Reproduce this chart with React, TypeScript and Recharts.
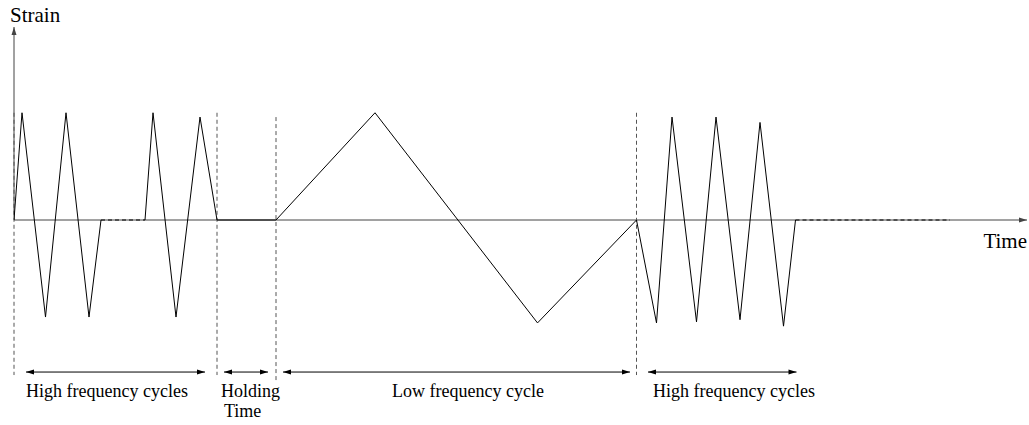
import React from 'react';
import { ComposedChart, Line, XAxis, YAxis, ReferenceLine } from 'recharts';

// ---- data (time in arbitrary units, strain normalised to the peak amplitude) ----
const burst1Time = [0, 8, 31.5, 52, 75, 87];
const burst1Strain = [0, 1.0, -0.905, 1.0, -0.905, 0];

const pauseTime = [87, 131];
const pauseStrain = [0, 0];

const mainTime = [131, 139, 162, 186, 203, 262, 361, 523.5, 622.5, 642.5, 658, 682.5, 702, 726, 746, 769.5, 781.5];
const mainStrain = [0, 1.0, -0.905, 0.96, 0, 0, 1.0, -0.96, 0, -0.96, 0.96, -0.95, 0.96, -0.93, 0.91, -0.99, 0];

const tailTime = [781.5, 936];
const tailStrain = [0, 0];

const boundaryTime = [0, 203, 262, 622.5];
const boundaryTop = [1.0, 1.0, 0.96, 1.0];
const boundaryBottom = [-1.446, -1.446, -1.493, -1.446];

const phaseStart = [12, 210, 269, 634];
const phaseEnd = [191, 254, 616, 782.5];
const phaseLevel = -1.418;
const phaseLabels = [['High frequency cycles'], ['Holding', 'Time'], ['Low frequency cycle'], ['High frequency cycles']];
const phaseLabelTime = [[12], [207, 210], [378], [639]];

const axisTimeEnd = 1013;
const axisStrainTop = 1.8;
const xLabel = 'Time';
const yLabel = 'Strain';

const FONT = '"Liberation Serif", "Times New Roman", Times, serif';

const toRows = (t: number[], s: number[]) => t.map((v, i) => ({ t: v, s: s[i] }));

function headPath(x: number, y: number, ux: number, uy: number, len: number, half: number) {
  const bx = x - ux * len;
  const by = y - uy * len;
  const px = -uy * half;
  const py = ux * half;
  return `M${x},${y}L${bx + px},${by + py}L${bx - px},${by - py}Z`;
}

type ShapeOpts = {
  startHead?: boolean;
  endHead?: boolean;
  len?: number;
  half?: number;
  stroke: string;
  dash?: string;
  text?: (x1: number, y1: number, x2: number, y2: number) => React.ReactNode;
};

function makeShape(o: ShapeOpts) {
  return (p: any) => {
    const { x1, y1, x2, y2 } = p;
    const dx = x2 - x1;
    const dy = y2 - y1;
    const L = Math.hypot(dx, dy) || 1;
    const ux = dx / L;
    const uy = dy / L;
    const len = o.len ?? 8;
    const half = o.half ?? 2.5;
    return (
      <g>
        <line x1={x1} y1={y1} x2={x2} y2={y2} stroke={o.stroke} strokeWidth={1} strokeDasharray={o.dash} />
        {o.endHead && <path d={headPath(x2, y2, ux, uy, len, half)} fill={o.stroke} stroke="none" />}
        {o.startHead && <path d={headPath(x1, y1, -ux, -uy, len, half)} fill={o.stroke} stroke="none" />}
        {o.text && o.text(x1, y1, x2, y2)}
      </g>
    );
  };
}

export default function App() {
  return (
    <div style={{ position: 'absolute', left: 0, top: 0, background: '#fff' }}>
      <ComposedChart width={1029} height={425} margin={{ top: 27, right: 2, bottom: 12, left: 14 }}>
        <XAxis type="number" dataKey="t" domain={[0, axisTimeEnd]} hide allowDataOverflow />
        <YAxis type="number" dataKey="s" domain={[-axisStrainTop, axisStrainTop]} hide allowDataOverflow />

        {/* axes */}
        <ReferenceLine
          ifOverflow="visible"
          segment={[{ x: 0, y: 0 }, { x: axisTimeEnd, y: 0 }]}
          shape={makeShape({
            endHead: true,
            len: 8,
            half: 2.5,
            stroke: '#444',
            text: (x1, y1, x2, y2) => (
              <text x={x2} y={y2 + 28} textAnchor="end" fontFamily={FONT} fontSize={21} fill="#000">
                {xLabel}
              </text>
            ),
          })}
        />
        <ReferenceLine
          ifOverflow="visible"
          segment={[{ x: 0, y: 0 }, { x: 0, y: axisStrainTop }]}
          shape={makeShape({
            endHead: true,
            len: 8,
            half: 2.5,
            stroke: '#444',
            text: (x1, y1, x2, y2) => (
              <text x={x2 - 4} y={y2 - 5} textAnchor="start" fontFamily={FONT} fontSize={21} fill="#000">
                {yLabel}
              </text>
            ),
          })}
        />

        {/* phase boundaries */}
        {boundaryTime.map((t, i) => (
          <ReferenceLine
            key={`b${i}`}
            ifOverflow="visible"
            segment={[{ x: t, y: boundaryTop[i] }, { x: t, y: boundaryBottom[i] }]}
            shape={makeShape({ stroke: '#555', dash: '4 3' })}
          />
        ))}

        {/* phase arrows and labels */}
        {phaseStart.map((t1, i) => {
          const t2 = phaseEnd[i];
          return (
            <ReferenceLine
              key={`a${i}`}
              ifOverflow="visible"
              segment={[{ x: t1, y: phaseLevel }, { x: t2, y: phaseLevel }]}
              shape={makeShape({
                startHead: true,
                endHead: true,
                len: 8,
                half: 2.5,
                stroke: '#000',
                text: (x1, y1, x2) => (
                  <g>
                    {phaseLabels[i].map((ln, j) => {
                      const tl = phaseLabelTime[i][j];
                      const px = x1 + ((tl - t1) / (t2 - t1)) * (x2 - x1);
                      return (
                        <text
                          key={j}
                          x={px}
                          y={y1 + 25 + j * 20}
                          textAnchor="start"
                          fontFamily={FONT}
                          fontSize={18}
                          fill="#000"
                        >
                          {ln}
                        </text>
                      );
                    })}
                  </g>
                ),
              })}
            />
          );
        })}

        {/* strain signal */}
        <Line data={toRows(burst1Time, burst1Strain)} dataKey="s" type="linear" dot={false} activeDot={false} stroke="#000" strokeWidth={1} isAnimationActive={false} />
        <Line data={toRows(pauseTime, pauseStrain)} dataKey="s" type="linear" dot={false} activeDot={false} stroke="#000" strokeWidth={1} strokeDasharray="4 3" isAnimationActive={false} />
        <Line data={toRows(mainTime, mainStrain)} dataKey="s" type="linear" dot={false} activeDot={false} stroke="#000" strokeWidth={1} isAnimationActive={false} />
        <Line data={toRows(tailTime, tailStrain)} dataKey="s" type="linear" dot={false} activeDot={false} stroke="#000" strokeWidth={1} strokeDasharray="4 3" isAnimationActive={false} />
      </ComposedChart>
    </div>
  );
}
